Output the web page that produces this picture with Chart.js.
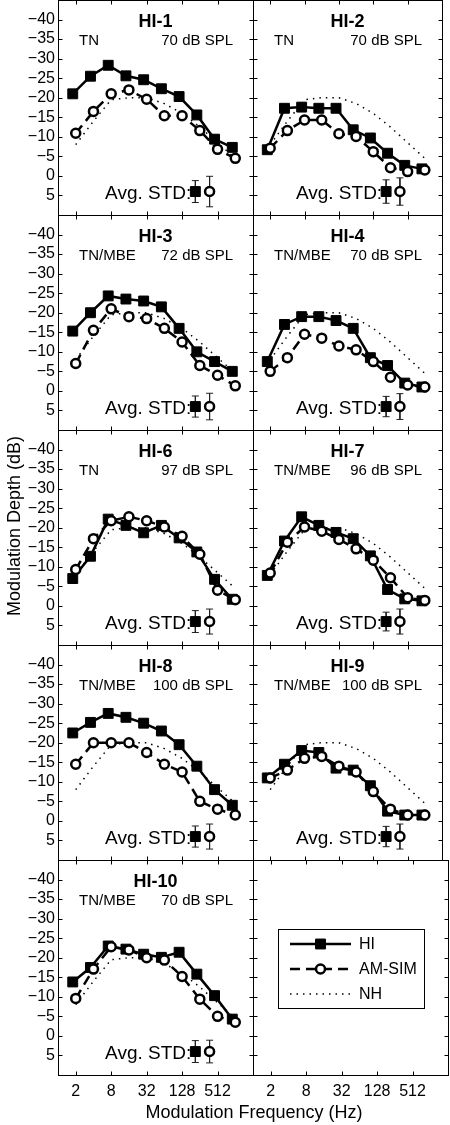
<!DOCTYPE html>
<html>
<head>
<meta charset="utf-8">
<script src="https://cdn.jsdelivr.net/npm/chart.js@4.4.0/dist/chart.umd.min.js"></script>
<style>
html, body { margin: 0; padding: 0; background: #fff; }
#fig { position: relative; width: 450px; height: 1125px; overflow: hidden; background: #fff; }
#fig canvas { position: absolute; }
</style>
</head>
<body>
<div id="fig"></div>
<script>
// modulation frequencies (Hz) and axis ticks
const freqs = [2, 4, 8, 16, 32, 64, 128, 256, 512, 1024];
const xTicks = [2, 8, 32, 128, 512];
const yTicks = [-40, -35, -30, -25, -20, -15, -10, -5, 0, 5];

// normal hearing reference (dotted line), same in every panel
const nh = [-8, -14, -19.5, -20, -20, -18.5, -16, -12.5, -8.5, -4.5];

// modulation depth thresholds (dB), HI listener and AM simulation
const hi1 = [-21, -25.5, -28.3, -25.6, -24.6, -22.3, -20.3, -15.6, -9.4, -7.3];
const sim1 = [-10.9, -16.5, -21, -22, -19.6, -15.4, -15.4, -11.6, -6.8, -4.5];
const hi2 = [-6.7, -17.3, -17.6, -17.3, -17.3, -11.8, -9.7, -5.8, -2.7, -1.8];
const sim2 = [-7.1, -11.6, -14.3, -14.3, -10.8, -10.1, -6.2, -2.1, -1.1, -1.5];
const hi3 = [-15.3, -20, -24.3, -23.5, -23, -21.5, -16, -10, -7.5, -5];
const sim3 = [-7, -15.5, -21, -19, -18.5, -16, -12.5, -6.5, -4, -1.3];
const hi4 = [-7.5, -17, -19, -19, -18, -16, -8.5, -6.5, -2, -1];
const sim4 = [-5, -8.5, -14.5, -13.5, -11.5, -10.5, -7.5, -3.5, -1.5, -1];
const hi6 = [-7, -12.7, -22.2, -20.6, -18.7, -20.6, -17.4, -13.8, -6.8, -1.7];
const sim6 = [-9.3, -17.2, -21.8, -22.8, -21.8, -20.2, -17.8, -13.2, -4, -1.6];
const hi7 = [-7.8, -16.6, -22.8, -20.6, -18.8, -17.2, -12.8, -4.2, -1.8, -1.3];
const sim7 = [-8.4, -16.3, -20.2, -19.1, -17, -14.6, -11.7, -7.2, -2.1, -1.4];
const hi8 = [-22.5, -25.2, -27.5, -26.5, -25, -23, -19.5, -14, -8, -4];
const sim8 = [-14.5, -20, -20, -20, -17.5, -14.5, -12.5, -5, -3, -1.5];
const hi9 = [-11, -14.5, -18, -17.5, -13.5, -13, -9, -2.5, -1.5, -1.5];
const sim9 = [-11, -13, -16, -16.5, -14, -12.5, -7.5, -3, -1.5, -1.5];
const hi10 = [-13.8, -17.5, -23, -22.2, -20.9, -20.1, -21.4, -15.8, -10.3, -4.3];
const sim10 = [-9.6, -17.1, -22.8, -22, -20, -19.4, -15.2, -9.4, -5, -3.5];

// average standard deviations (dB) shown bottom right of each panel
const stdHi = [2.8, 3.0, 2.7, 2.6, 2.8, 2.4, 2.7, 2.6, 2.8];
const stdSim = [3.9, 3.5, 3.4, 3.3, 3.2, 3.2, 3.2, 3.2, 2.9];

const names = ['HI-1', 'HI-2', 'HI-3', 'HI-4', 'HI-6', 'HI-7', 'HI-8', 'HI-9', 'HI-10'];
const maskers = ['TN', 'TN', 'TN/MBE', 'TN/MBE', 'TN', 'TN/MBE', 'TN/MBE', 'TN/MBE', 'TN/MBE'];
const levels = ['70 dB SPL', '70 dB SPL', '72 dB SPL', '70 dB SPL', '97 dB SPL', '96 dB SPL', '100 dB SPL', '100 dB SPL', '70 dB SPL'];
const hiSeries = [hi1, hi2, hi3, hi4, hi6, hi7, hi8, hi9, hi10];
const simSeries = [sim1, sim2, sim3, sim4, sim6, sim7, sim8, sim9, sim10];

const FONT = "'Liberation Sans', Arial, Helvetica, sans-serif";
Chart.defaults.font.family = FONT;
Chart.defaults.color = '#000';

const hiShift = 0.89;     // HI symbols sit slightly left of the nominal frequency
const stdPos = [215, 375]; // where the Avg. STD symbols sit (Hz)
const stdLevel = 4;

// page geometry of the 2x5 grid of axes
const colEdges = [[58, 253], [253, 448]];
const rowTop = [0, 215, 430, 645, 860];
const rowH = 215;
const M = 14;

const fig = document.getElementById('fig');

// box + inward ticks on all four sides, matlab style
const framePlugin = {
  id: 'frame',
  afterDatasetsDraw(chart) {
    const {ctx, chartArea: a, scales: {x, y}} = chart;
    const l = Math.round(a.left) + 0.5, t = Math.round(a.top) + 0.5;
    const r = Math.round(a.right) + 0.5, b = Math.round(a.bottom) + 0.5;
    ctx.save();
    ctx.strokeStyle = '#000';
    ctx.lineWidth = 1;
    ctx.setLineDash([]);
    ctx.strokeRect(l, t, r - l, b - t);
    ctx.beginPath();
    x.ticks.forEach(tk => {
      const px = Math.round(x.getPixelForValue(tk.value)) + 0.5;
      ctx.moveTo(px, t); ctx.lineTo(px, t + 4);
      ctx.moveTo(px, b); ctx.lineTo(px, b - 4);
    });
    y.ticks.forEach(tk => {
      const py = Math.round(y.getPixelForValue(tk.value)) + 0.5;
      ctx.moveTo(l, py); ctx.lineTo(l + 4, py);
      ctx.moveTo(r, py); ctx.lineTo(r - 4, py);
    });
    ctx.stroke();
    ctx.restore();
  }
};

// panel name, masker, level and the Avg. STD label
const textPlugin = {
  id: 'panelText',
  beforeDatasetsDraw(chart, args, opts) {
    if (!opts || !opts.name) return;
    const {ctx, chartArea: a, scales: {x, y}} = chart;
    ctx.save();
    ctx.fillStyle = '#000';
    ctx.textBaseline = 'alphabetic';
    ctx.font = 'bold 18px ' + FONT;
    ctx.textAlign = 'center';
    ctx.fillText(opts.name, (a.left + a.right) / 2, a.top + 27);
    ctx.font = '15px ' + FONT;
    ctx.textAlign = 'left';
    ctx.fillText(opts.masker, a.left + 21, a.top + 45);
    ctx.textAlign = 'right';
    ctx.fillText(opts.level, a.right - 20, a.top + 45);
    ctx.font = '19px ' + FONT;
    ctx.fillText('Avg. STD:', x.getPixelForValue(stdPos[0]) - 4, y.getPixelForValue(stdLevel) + 7);
    ctx.restore();
  }
};

// legend box in the empty panel, built from the datasets
const legendPlugin = {
  id: 'boxLegend',
  afterDatasetsDraw(chart, args, opts) {
    if (!opts || !opts.show) return;
    const {ctx, chartArea: a} = chart;
    const bx = Math.round(a.left + 25) + 0.5, by = Math.round(a.top + 69) + 0.5;
    ctx.save();
    ctx.strokeStyle = '#000';
    ctx.lineWidth = 1;
    ctx.fillStyle = '#fff';
    ctx.fillRect(bx, by, 146, 79);
    ctx.strokeRect(bx, by, 146, 79);
    chart.data.datasets.forEach((ds, i) => {
      const yy = a.top + 84 + i * 25;
      const x0 = a.left + 37, x1 = a.left + 98;
      ctx.save();
      ctx.strokeStyle = ds.borderColor;
      ctx.lineWidth = ds.borderWidth;
      ctx.setLineDash(ds.borderDash || []);
      ctx.beginPath();
      ctx.moveTo(x0, yy); ctx.lineTo(x1, yy);
      ctx.stroke();
      ctx.setLineDash([]);
      if (ds.pointRadius > 0) {
        ctx.fillStyle = ds.pointBackgroundColor;
        ctx.strokeStyle = ds.pointBorderColor;
        ctx.lineWidth = ds.pointBorderWidth;
        ctx.beginPath();
        if (ds.pointStyle === 'rect') {
          const s = ds.pointRadius * Math.SQRT1_2;
          ctx.rect((x0 + x1) / 2 - s, yy - s, 2 * s, 2 * s);
        } else {
          ctx.arc((x0 + x1) / 2, yy, ds.pointRadius, 0, Math.PI * 2);
        }
        ctx.fill();
        ctx.stroke();
      }
      ctx.restore();
      ctx.fillStyle = '#000';
      ctx.font = '16px ' + FONT;
      ctx.textAlign = 'left';
      ctx.textBaseline = 'middle';
      ctx.fillText(ds.label, a.left + 106, yy + 1);
    });
    ctx.restore();
  }
};

function hiStyle(data) {
  return {
    label: 'HI', data, showLine: true, order: 1,
    borderColor: '#000', borderWidth: 2.5,
    pointStyle: 'rect', pointRadius: 7, pointBorderWidth: 1,
    pointBackgroundColor: '#000', pointBorderColor: '#000'
  };
}
function simStyle(data) {
  return {
    label: 'AM-SIM', data, showLine: true, order: 0,
    borderColor: '#000', borderWidth: 2.5, borderDash: [10, 6],
    pointStyle: 'circle', pointRadius: 4.5, pointBorderWidth: 2.5,
    pointBackgroundColor: '#fff', pointBorderColor: '#000'
  };
}
function nhStyle(data) {
  return {
    label: 'NH', data, showLine: true, order: 2,
    borderColor: '#000', borderWidth: 1.5, borderDash: [1.5, 5],
    pointRadius: 0
  };
}
function errBar(xv, sd) {
  return {
    data: [{x: xv, y: stdLevel - sd}, {x: xv, y: stdLevel + sd}],
    showLine: true, order: 5, borderColor: '#222', borderWidth: 1,
    pointStyle: 'line', pointRadius: 3.5, pointBorderWidth: 1, pointBorderColor: '#222'
  };
}

function makePanel(idx, row, col) {
  const [left, right] = colEdges[col];
  const top = rowTop[row], bottom = top + rowH;
  const last = row === 4;
  const cLeft = col === 0 ? 0 : left - M;
  const cRight = Math.min(450, right + M);
  const cTop = top - M;
  const cBottom = last ? bottom + 50 : bottom + M;
  const cv = document.createElement('canvas');
  cv.width = cRight - cLeft;
  cv.height = cBottom - cTop;
  cv.style.left = cLeft + 'px';
  cv.style.top = cTop + 'px';
  fig.appendChild(cv);

  let datasets;
  if (idx === null) {
    datasets = [hiStyle([]), simStyle([]), nhStyle([])];
  } else {
    const hi = hiSeries[idx], sim = simSeries[idx];
    datasets = [
      simStyle(freqs.map((f, i) => ({x: f, y: sim[i]}))),
      hiStyle(freqs.map((f, i) => ({x: f * hiShift, y: hi[i]}))),
      nhStyle(freqs.map((f, i) => ({x: f, y: nh[i]}))),
      Object.assign(hiStyle([{x: stdPos[0], y: stdLevel}]), {showLine: false, order: 3}),
      Object.assign(simStyle([{x: stdPos[1], y: stdLevel}]), {showLine: false, order: 3}),
      errBar(stdPos[0], stdHi[idx]),
      errBar(stdPos[1], stdSim[idx])
    ];
  }

  new Chart(cv, {
    type: 'scatter',
    data: {datasets},
    options: {
      responsive: false,
      animation: false,
      events: [],
      layout: {
        padding: {
          left: col === 0 ? 0 : M,
          right: cRight - right,
          top: M,
          bottom: last ? 0 : M
        }
      },
      plugins: {
        legend: {display: false},
        tooltip: {enabled: false},
        panelText: idx === null ? {} : {name: names[idx], masker: maskers[idx], level: levels[idx]},
        boxLegend: {show: idx === null}
      },
      scales: {
        x: {
          type: 'logarithmic', min: 1, max: 2048,
          display: last,
          grid: {display: false, drawTicks: false},
          border: {display: false},
          ticks: {font: {size: 16}, padding: 7, maxRotation: 0, autoSkip: false, callback: v => String(v)},
          afterBuildTicks: s => { s.ticks = xTicks.map(v => ({value: v})); },
          afterFit: s => { if (last) s.height = 50; }
        },
        y: {
          type: 'linear', min: -45, max: 10, reverse: true,
          display: col === 0,
          grid: {display: false, drawTicks: false},
          border: {display: false},
          ticks: {font: {size: 16}, padding: 3, autoSkip: false,
            callback: v => (v < 0 ? '\u2212' + (-v) : String(v))},
          afterBuildTicks: s => { s.ticks = yTicks.map(v => ({value: v})); },
          afterFit: s => { if (col === 0) s.width = 58; }
        }
      }
    },
    plugins: [framePlugin, textPlugin, legendPlugin]
  });
}

// background chart carrying the shared axis titles
(function () {
  const cv = document.createElement('canvas');
  cv.width = 450; cv.height = 1125;
  cv.style.left = '0px'; cv.style.top = '0px';
  fig.appendChild(cv);
  new Chart(cv, {
    type: 'scatter',
    data: {datasets: []},
    options: {
      responsive: false, animation: false, events: [],
      layout: {padding: 0},
      plugins: {legend: {display: false}, tooltip: {enabled: false}},
      scales: {
        x: {
          min: 0, max: 1,
          grid: {display: false, drawTicks: false}, border: {display: false},
          ticks: {display: false},
          title: {display: true, text: 'Modulation Frequency (Hz)', font: {size: 18}, padding: {top: 0, bottom: 1}},
          afterFit: s => { s.height = 73; }
        },
        y: {
          min: 0, max: 1,
          grid: {display: false, drawTicks: false}, border: {display: false},
          ticks: {display: false},
          title: {display: true, text: 'Modulation Depth (dB)', font: {size: 18}, padding: {top: 4, bottom: 0}},
          afterFit: s => { s.width = 58; }
        }
      }
    }
  });
})();

const order = [[0, 0, 0], [1, 0, 1], [2, 1, 0], [3, 1, 1], [4, 2, 0], [5, 2, 1], [6, 3, 0], [7, 3, 1], [8, 4, 0], [null, 4, 1]];
order.forEach(([idx, row, col]) => makePanel(idx, row, col));
</script>
</body>
</html>
